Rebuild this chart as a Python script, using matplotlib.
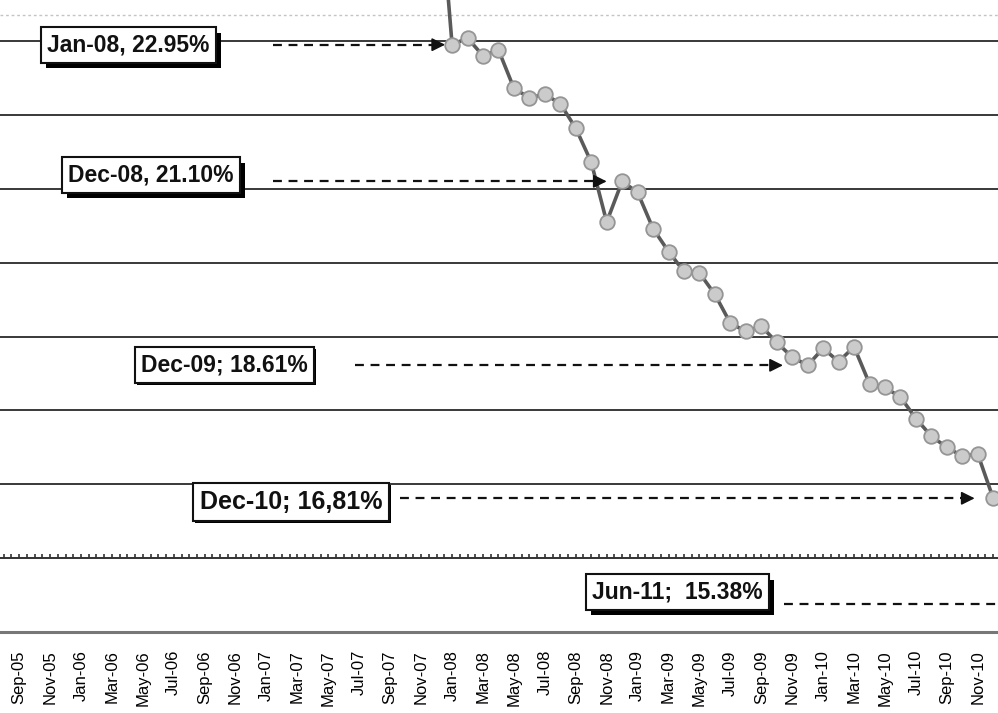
import numpy as np
import pandas as pd
import matplotlib
matplotlib.use("Agg")
import matplotlib.pyplot as plt
import matplotlib.patheffects as pe

plt.rcParams['font.family'] = ['Liberation Sans', 'DejaVu Sans']

###### DATA
months = pd.date_range('2005-09-01', '2010-12-01', freq='MS')
tick_labels = [m.strftime('%b-%y') for m in months[::2]]

series_start = '2007-12-01'
rate = [25.5,
        22.95, 23.04, 22.80, 22.88, 22.36, 22.23, 22.28, 22.15, 21.82, 21.36, 20.55, 21.10,
        20.95, 20.46, 20.15, 19.88, 19.86, 19.57, 19.18, 19.07, 19.14, 18.92, 18.72, 18.61,
        18.84, 18.66, 18.86, 18.36, 18.31, 18.18, 17.89, 17.65, 17.50, 17.38, 17.41, 16.81]

callout_text = ['Jan-08, 22.95%', 'Dec-08, 21.10%', 'Dec-09; 18.61%', 'Dec-10; 16,81%']
callout_month = ['2008-01-01', '2008-12-01', '2009-12-01', '2010-12-01']
jun11_text = 'Jun-11;  15.38%'
jun11_value = 15.38
grid_values = [17, 18, 19, 20, 21, 22, 23]
###### END DATA

# layout (pixels of the 998x713 picture)
W, H = 998, 713
AX_H = 632
box_px = [(47, 45, 16.5, 4), (68, 175, 16.5, 4), (141, 365, 16.5, 1.5), (200, 502, 18, 1.5)]
arrow_start = [16.4, 16.4, 21.7, 24.6]
arrow_gap = [0.45, 1.0, 1.6, 1.2]

fig = plt.figure(figsize=(W / 100, H / 100), dpi=100)
ax = fig.add_axes([0, (H - AX_H) / H, 1, AX_H / H])

x_all = np.arange(len(months))
i0 = list(months).index(pd.Timestamp(series_start))
x_rate = np.arange(i0, i0 + len(rate))

ax.set_xlim(-1.24, 63.31)
ax.set_ylim(15, 23.555)

for g in grid_values:
    ax.axhline(g, color='#2a2a2a', lw=1.3, zorder=1)
ax.axhline(15, color='#777777', lw=2.2, zorder=1, clip_on=False)
ax.axhline(23.35, color='#c4c4c4', lw=1, ls=(0, (2, 2)), zorder=1)
# axis line at 16 with small ticks
ax.axhline(16, color='#333333', lw=1.4, zorder=1)
ax.vlines(np.arange(-1, 64, 0.5), 16, 16.05, color='#333333', lw=1.2, zorder=1)

ax.plot(x_rate, rate, color='#5a5a5a', lw=2.6, marker='o', ms=10.5,
        markerfacecolor='#cbcbcb', markeredgecolor='#959595', markeredgewidth=1.3,
        zorder=3, clip_on=True)

for i, txt in enumerate(callout_text):
    idx = list(months).index(pd.Timestamp(callout_month[i]))
    val = rate[idx - i0]
    px, py, fs, sh = box_px[i]
    t = ax.text(px / W, 1 - py / AX_H, txt, transform=ax.transAxes, ha='left', va='center',
                fontsize=fs, fontweight='bold', color='#111111', zorder=5,
                bbox=dict(boxstyle='square,pad=0.27', fc='white', ec='#111111', lw=1.5))
    t.get_bbox_patch().set_path_effects([
        pe.SimplePatchShadow(offset=(sh, -sh), shadow_rgbFace='black', alpha=1.0),
        pe.Normal()])
    x_end = idx - arrow_gap[i]
    ax.plot([arrow_start[i], x_end - 0.3], [val, val], color='#111111', lw=1.6,
            ls=(0, (4, 3)), zorder=4)
    ax.annotate('', xy=(x_end, val), xytext=(x_end - 0.35, val),
                arrowprops=dict(arrowstyle='-|>', color='#111111', lw=1.2,
                                mutation_scale=20, shrinkA=0, shrinkB=0), zorder=4)

t = ax.text(592 / W, 1 - 592 / AX_H, jun11_text, transform=ax.transAxes, ha='left', va='center',
            fontsize=16.5, fontweight='bold', color='#111111', zorder=5,
            bbox=dict(boxstyle='square,pad=0.27', fc='white', ec='#111111', lw=1.5))
t.get_bbox_patch().set_path_effects([
    pe.SimplePatchShadow(offset=(4, -4), shadow_rgbFace='black', alpha=1.0), pe.Normal()])
ax.plot([49.5, 64], [jun11_value, jun11_value], color='#111111', lw=1.6, ls=(0, (4, 3)), zorder=4)

ax.set_xticks(x_all[::2])
ax.set_xticklabels(tick_labels, rotation=90, fontsize=12, color='black')
ax.tick_params(axis='x', length=0, pad=13)
ax.set_yticks([])
for s in ax.spines.values():
    s.set_visible(False)

fig.savefig('out.png', dpi=100)
